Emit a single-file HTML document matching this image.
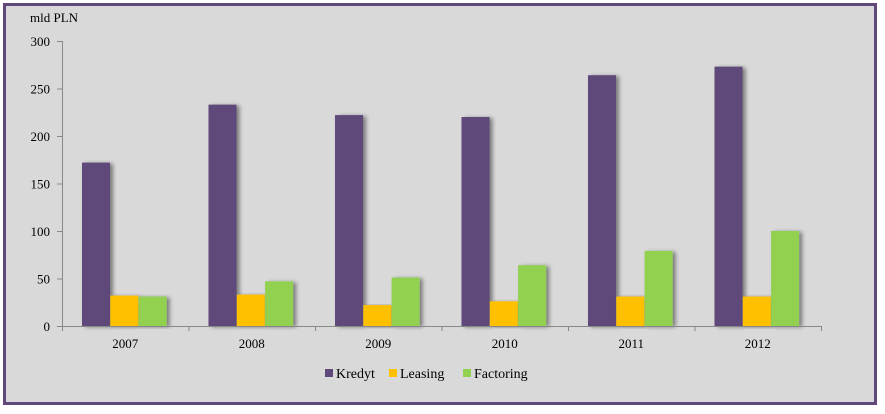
<!DOCTYPE html>
<html><head><meta charset="utf-8"><style>
body{margin:0;background:#fff}
svg{display:block;font-family:"Liberation Serif",serif}
</style></head><body>
<svg width="885" height="414" id="c">
<defs><filter id="sh" x="-30%" y="-10%" width="160%" height="120%"><feGaussianBlur in="SourceAlpha" stdDeviation="2"/><feOffset dx="3" dy="1"/><feComponentTransfer><feFuncA type="linear" slope="0.45"/></feComponentTransfer><feMerge><feMergeNode/><feMergeNode in="SourceGraphic"/></feMerge></filter></defs>
<rect x="4.5" y="4.5" width="871" height="399" fill="#d9d9d9" stroke="#5f497a" stroke-width="3"/>
<text x="30" y="22" font-size="13">mld PLN</text>
<g id="plot"></g>
</svg>
<script>
const categories=["2007","2008","2009","2010","2011","2012"];
const kredyt=[172,233,222,220,264,273];
const leasing=[32,33,22,26,31,31];
const factoring=[31,47,51,64,79,100];
const yTicks=[0,50,100,150,200,250,300];
const seriesNames=["Kredyt","Leasing","Factoring"];
const colors=["#5f497a","#ffc000","#92d050"];
const NS="http://www.w3.org/2000/svg";
const g=document.getElementById('plot');
const x0=62,x1=821,y0=326,yTop=41,ymax=300;
const y=v=>y0-(v/ymax)*(y0-yTop);
const cw=(x1-x0)/categories.length;
function el(t,a,p){const e=document.createElementNS(NS,t);for(const k in a)e.setAttribute(k,a[k]);(p||g).appendChild(e);return e;}
yTicks.forEach(t=>{
 const l=el('line',{x1:x0-5,x2:x0,y1:y(t)+0.5,y2:y(t)+0.5,stroke:'#888'});
 
 
 const tx=el('text',{x:x0-12,y:y(t)+5,'font-size':13,'text-anchor':'end'});tx.textContent=t;
 
 
});
const series=[kredyt,leasing,factoring];
categories.forEach((c,i)=>{
 const cx=x0+cw*i;
 series.forEach((s,j)=>{
  const bx=cx+20+j*28.3;
  const r=el('rect',{x:bx,y:y(s[i]),width:28,height:y0-y(s[i]),fill:colors[j],filter:'url(#sh)'});
  
  
 });
 const tk=el('line',{x1:cx+cw+0.5,x2:cx+cw+0.5,y1:y0,y2:y0+5,stroke:'#888'});
 
 
 const tx=el('text',{x:cx+cw/2,y:y0+22,'font-size':13,'text-anchor':'middle'});tx.textContent=c;
 
 
});
const ya=el('line',{x1:x0+0.5,x2:x0+0.5,y1:yTop,y2:y0+5,stroke:'#888'});


const xa=el('line',{x1:x0,x2:x1+1,y1:y0+0.5,y2:y0+0.5,stroke:'#888'});


const lx=[325,389,463];
seriesNames.forEach((n,j)=>{
 const sq=el('rect',{x:lx[j],y:369,width:8,height:8,fill:colors[j]});
 
 
 const t=el('text',{x:lx[j]+11,y:378,'font-size':14});t.textContent=n;
 
 
});
</script>
</body></html>
